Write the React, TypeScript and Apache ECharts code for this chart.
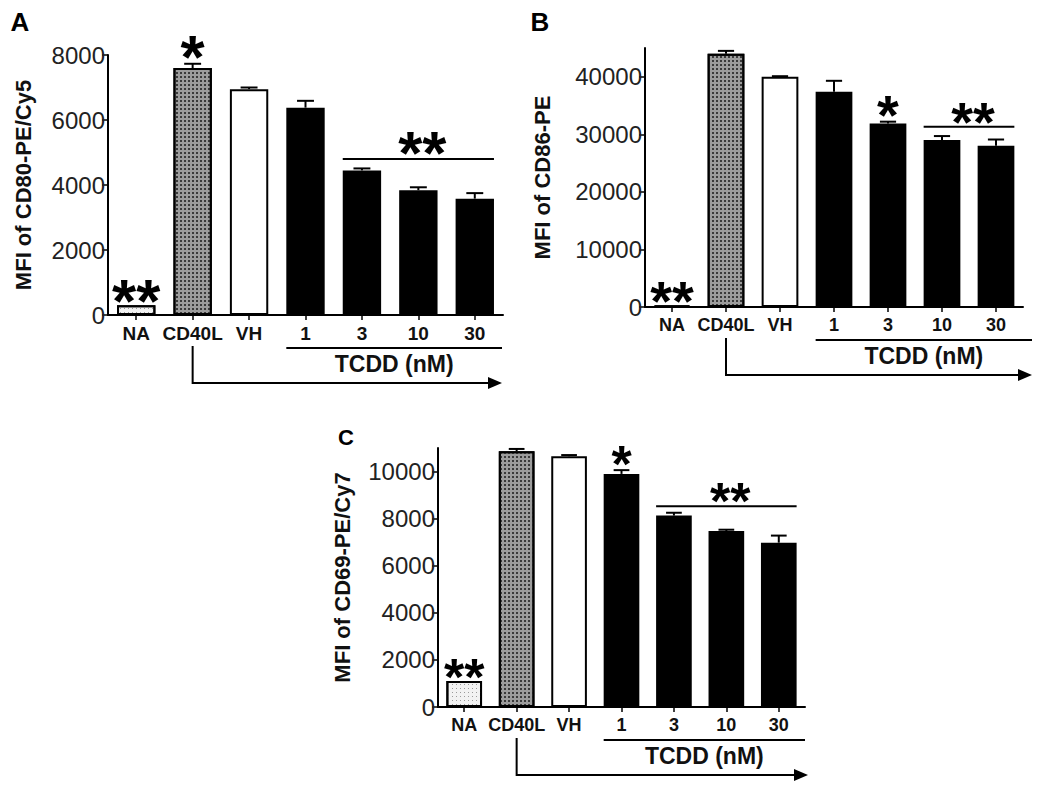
import React, { useEffect, useRef } from 'react';
import * as echarts from 'echarts';

const FONT = "'Liberation Sans', Arial, Helvetica, sans-serif";

const categories = ['NA', 'CD40L', 'VH', '1', '3', '10', '30'];

const cd80Means = [300, 7600, 6950, 6380, 4450, 3840, 3580];
const cd80Errors = [0, 130, 50, 210, 60, 90, 170];
const cd80Ticks = [0, 2000, 4000, 6000, 8000];

const cd86Means = [300, 44000, 40000, 37400, 31900, 29000, 28000];
const cd86Errors = [0, 500, 100, 1900, 300, 700, 1100];
const cd86Ticks = [0, 10000, 20000, 30000, 40000];

const cd69Means = [1100, 10860, 10650, 9900, 8130, 7470, 6980];
const cd69Errors = [0, 100, 50, 160, 120, 60, 300];
const cd69Ticks = [0, 2000, 4000, 6000, 8000, 10000];

const tcddLabel = 'TCDD (nM)';

const panels = [
  {
    letter: 'A', letterPos: [20, 22], letterSize: 26,
    yName: 'MFI of CD80-PE/Cy5', means: cd80Means, errors: cd80Errors, ticks: cd80Ticks, max: 8000,
    grid: { left: 108, top: 55, width: 395, height: 260 }, nameGap: 74, catSize: 19,
    singleStar: 1, bracket: [4, 6], bracketLevel: 4800, starSize: 62, underExtend: -1, arrowExtend: -1,
  },
  {
    letter: 'B', letterPos: [540, 22], letterSize: 26,
    yName: 'MFI of CD86-PE', means: cd86Means, errors: cd86Errors, ticks: cd86Ticks, max: 45000,
    grid: { left: 645, top: 48, width: 378, height: 259 }, nameGap: 92, catSize: 18,
    singleStar: 4, bracket: [5, 6], bracketLevel: 31300, starSize: 56, underExtend: 9, arrowExtend: 9,
  },
  {
    letter: 'C', letterPos: [346, 437], letterSize: 22,
    yName: 'MFI of CD69-PE/Cy7', means: cd69Means, errors: cd69Errors, ticks: cd69Ticks, max: 11000,
    grid: { left: 438, top: 448, width: 367, height: 259 }, nameGap: 85, catSize: 18,
    singleStar: 3, bracket: [4, 6], bracketLevel: 8530, starSize: 52, underExtend: 0, arrowExtend: 3,
  },
];

const barStyles = [
  { color: '#f2f2f2', decal: { symbol: 'rect', symbolSize: 1, color: '#9a9a9a', dashArrayX: [1, 3], dashArrayY: [1, 3] } },
  { color: '#9c9c9c', decal: { symbol: 'rect', symbolSize: 1, color: '#3a3a3a', dashArrayX: [2, 2], dashArrayY: [2, 2] } },
  { color: '#ffffff' },
  { color: '#000000' },
  { color: '#000000' },
  { color: '#000000' },
  { color: '#000000' },
];

export default function App() {
  const ref = useRef<HTMLDivElement>(null);
  useEffect(() => {
    const chart = echarts.init(ref.current!, null, { renderer: 'svg' });
    const option: any = {
      animation: false,
      backgroundColor: '#ffffff',
      grid: panels.map((p) => ({ ...p.grid, containLabel: false })),
      xAxis: panels.map((p, i) => ({
        type: 'category', gridIndex: i, data: categories,
        axisLine: { show: true, lineStyle: { color: '#000', width: 2 } },
        axisTick: { show: true, alignWithLabel: true, length: 5, lineStyle: { color: '#000', width: 1.5 } },
        axisLabel: { interval: 0, fontSize: p.catSize, fontWeight: 'bold', color: '#111', fontFamily: FONT, margin: 9 },
        splitLine: { show: false },
      })),
      yAxis: panels.map((p, i) => ({
        type: 'value', gridIndex: i, min: 0, max: p.max,
        name: p.yName, nameLocation: 'middle', nameRotate: 90, nameGap: p.nameGap,
        nameTextStyle: { fontSize: 22, fontWeight: 'bold', color: '#111', fontFamily: FONT },
        axisLine: { show: true, lineStyle: { color: '#000', width: 2 } },
        axisTick: { show: true, length: 6, customValues: p.ticks, lineStyle: { color: '#000', width: 1.5 } },
        axisLabel: {
          customValues: p.ticks, fontSize: 24, color: '#222', fontFamily: FONT, margin: 3,
          formatter: (v: number) => String(v),
        },
        splitLine: { show: false },
      })),
      series: panels.flatMap((p, i) => [
        {
          type: 'bar', xAxisIndex: i, yAxisIndex: i, barWidth: '68%',
          data: p.means.map((v, j) => ({
            value: v,
            itemStyle: { ...barStyles[j], borderColor: '#000', borderWidth: 2 },
          })),
          z: 2,
        },
        {
          type: 'custom', xAxisIndex: i, yAxisIndex: i,
          data: p.means.map((v, j) => [j, v, v + p.errors[j]]),
          encode: { x: 0, y: [1, 2] },
          renderItem: (params: any, api: any) => {
            const x = api.value(0), lo = api.value(1), hi = api.value(2);
            if (hi <= lo) return null;
            const a = api.coord([x, lo]);
            const b = api.coord([x, hi]);
            const half = api.size([1, 0])[0] * 0.15;
            return {
              type: 'group',
              children: [
                { type: 'line', shape: { x1: a[0], y1: a[1], x2: b[0], y2: b[1] }, style: { stroke: '#000', lineWidth: 2 } },
                { type: 'line', shape: { x1: b[0] - half, y1: b[1], x2: b[0] + half, y2: b[1] }, style: { stroke: '#000', lineWidth: 2 } },
              ],
            };
          },
          z: 3,
        },
      ]),
    };
    chart.setOption(option);

    const graphics: any[] = [];
    const starText = (x: number, glyphBottom: number, text: string, size: number) => {
      graphics.push({
        type: 'text', x, y: glyphBottom - size * 0.05,
        style: {
          text, fontSize: size, lineHeight: Math.round(size * 0.3), fontWeight: 'bold', fontFamily: FONT,
          fill: '#000', align: 'center', verticalAlign: 'middle',
        },
        z: 10,
      });
    };
    panels.forEach((p, i) => {
      const px = (c: number, v: number) => chart.convertToPixel({ xAxisIndex: i, yAxisIndex: i } as any, [c, v]) as number[];
      const band = p.grid.width / categories.length;
      const halfBar = band * 0.34;
      const axisY = p.grid.top + p.grid.height;
      const axisRight = p.grid.left + p.grid.width;

      graphics.push({
        type: 'text', x: p.letterPos[0], y: p.letterPos[1],
        style: { text: p.letter, fontSize: p.letterSize, fontWeight: 'bold', fontFamily: FONT, fill: '#000', align: 'center', verticalAlign: 'middle' },
      });

      const na = px(0, p.means[0]);
      starText(na[0], na[1] - 2, '**', p.starSize);

      const s = p.singleStar;
      const sp = px(s, p.means[s] + p.errors[s]);
      starText(sp[0], sp[1] - 4, '*', p.starSize);

      const b0 = px(p.bracket[0], p.bracketLevel);
      const b1 = px(p.bracket[1], p.bracketLevel);
      graphics.push({
        type: 'line', shape: { x1: b0[0] - halfBar, y1: b0[1], x2: b1[0] + halfBar, y2: b1[1] },
        style: { stroke: '#000', lineWidth: 2 }, z: 10,
      });
      starText((b0[0] + b1[0]) / 2 + 4, b0[1] - 3, '**', p.starSize);

      const t0 = px(3, 0);
      const uy = axisY + 33;
      const ux0 = t0[0] - halfBar;
      const ux1 = axisRight + p.underExtend;
      graphics.push({
        type: 'line', shape: { x1: ux0, y1: uy, x2: ux1, y2: uy },
        style: { stroke: '#000', lineWidth: 2 },
      });
      graphics.push({
        type: 'text', x: (ux0 + ux1) / 2, y: axisY + 49,
        style: { text: tcddLabel, fontSize: 23, fontWeight: 'bold', fontFamily: FONT, fill: '#111', align: 'center', verticalAlign: 'middle' },
      });

      const c1 = px(1, 0);
      const ay = axisY + 68;
      const ax1 = axisRight + p.arrowExtend;
      graphics.push({
        type: 'polyline', shape: { points: [[c1[0], axisY + 31], [c1[0], ay], [ax1 - 10, ay]] },
        style: { stroke: '#000', lineWidth: 2, fill: 'none' },
      });
      graphics.push({
        type: 'polygon', shape: { points: [[ax1 - 14, ay - 6], [ax1, ay], [ax1 - 14, ay + 6]] },
        style: { fill: '#000' },
      });
    });
    chart.setOption({ graphic: graphics });

    return () => chart.dispose();
  }, []);
  return (
    <div
      ref={ref}
      style={{ position: 'absolute', left: 0, top: 0, width: 1050, height: 788, background: '#fff' }}
    />
  );
}
